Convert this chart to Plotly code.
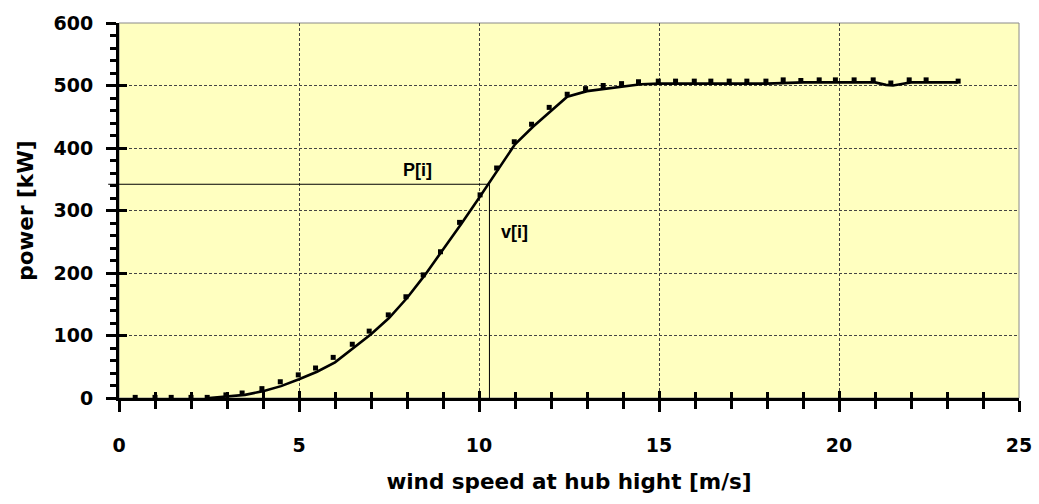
import plotly.graph_objects as go

# Measured power at binned wind speeds (markers)
measured_speed = [0.45, 1.0, 1.45, 2.0, 2.45, 2.97, 3.42, 3.97, 4.48, 4.98, 5.46, 5.95,
                  6.48, 6.95, 7.48, 7.97, 8.45, 8.93, 9.46, 10.03, 10.49, 10.98, 11.46,
                  11.95, 12.45, 12.96, 13.45, 13.96, 14.43, 14.98, 15.46, 15.98, 16.44,
                  16.95, 17.44, 17.97, 18.45, 18.94, 19.45, 19.9, 20.42, 20.95, 21.44,
                  21.95, 22.42, 23.31]
measured_power = [1, 1, 1, 1, 1, 5, 8, 15, 26, 37, 48, 65,
                  86, 107, 133, 162, 197, 234, 281, 325, 368, 410, 438,
                  465, 486, 495, 500, 503, 506, 507, 507, 507, 507,
                  507, 507, 507, 509, 508, 509, 509, 509, 509, 504,
                  509, 509, 507]

# Power curve (solid line)
curve_speed = [2.5, 3.0, 3.5, 4.0, 4.5, 5.0, 5.5, 6.0, 6.5, 7.0, 7.5, 8.0, 8.5, 9.0,
               9.5, 10.0, 10.5, 11.0, 11.5, 12.0, 12.45, 13.0, 13.5, 14.0, 14.5, 15.0,
               18.0, 19.0, 21.0, 21.3, 21.5, 21.7, 22.0, 23.3]
curve_power = [0, 2, 5, 11, 19, 30, 42, 57, 80, 102, 128, 160, 197, 237,
               278, 320, 364, 406, 434, 460, 482, 491, 495, 499, 502, 503,
               503, 505, 505, 501, 500, 502, 505, 505]

# Operating point
v_i = 10.29
P_i = 342

x_ticks = [0, 5, 10, 15, 20, 25]
y_ticks = [0, 100, 200, 300, 400, 500, 600]

BOLD = dict(family="DejaVu Sans", weight="bold", color="black")
ARIAL_BOLD = dict(family="Liberation Sans, Arial", weight="bold", color="black")

fig = go.Figure()

fig.add_trace(go.Scatter(
    x=[0, v_i, v_i], y=[P_i, P_i, 0], mode="lines",
    line=dict(color="black", width=1), hoverinfo="skip", showlegend=False))

fig.add_trace(go.Scatter(
    x=curve_speed, y=curve_power, mode="lines",
    line=dict(color="black", width=2.6), showlegend=False))

fig.add_trace(go.Scatter(
    x=measured_speed, y=measured_power, mode="markers",
    marker=dict(symbol="square", size=5, color="black", line=dict(width=0)),
    showlegend=False, cliponaxis=False))

# invisible trace that anchors the inner-tick axes
fig.add_trace(go.Scatter(x=[0], y=[0], xaxis="x2", yaxis="y2", mode="markers",
                         marker=dict(opacity=0), hoverinfo="skip", showlegend=False))

fig.add_annotation(x=v_i - 2.0, y=P_i + 23, text="P[i]", showarrow=False,
                   font=dict(size=18, **ARIAL_BOLD))
fig.add_annotation(x=v_i + 0.7, y=P_i - 76, text="v[i]", showarrow=False,
                   font=dict(size=18, **ARIAL_BOLD))

# horizontal reference line continues slightly past the value axis
fig.add_shape(type="line", xref="paper", yref="y", x0=-0.012, x1=0, y0=P_i, y1=P_i,
              line=dict(color="black", width=1))
# thin frame on top and right
fig.add_shape(type="rect", xref="paper", yref="paper", x0=0, x1=1, y0=0, y1=1,
              line=dict(color="#8a8a8a", width=1), layer="below")

grid = dict(showgrid=True, gridcolor="#444444", gridwidth=1, griddash="3px,2px")

fig.update_layout(
    width=1039, height=504,
    margin=dict(l=119, r=20, t=23, b=106, autoexpand=False),
    paper_bgcolor="white",
    plot_bgcolor="#FFFFC0",
    xaxis=dict(range=[0, 25], tickvals=x_ticks, ticktext=[str(t) for t in x_ticks],
               ticks="outside", ticklen=11, tickwidth=3, tickcolor="black",
               minor=dict(ticks="outside", dtick=1, ticklen=8, tickwidth=3,
                          tickcolor="black", showgrid=False),
               showline=True, linecolor="black", linewidth=3,
               tickfont=dict(size=19, **BOLD), ticklabelstandoff=17,
               title=dict(text="wind speed at hub hight [m/s]",
                          font=dict(size=21.5, **BOLD), standoff=20),
               automargin=False, zeroline=False, fixedrange=True, **grid),
    yaxis=dict(range=[0, 600], tickvals=y_ticks, ticktext=[str(t) for t in y_ticks],
               ticks="outside", ticklen=10, tickwidth=3, tickcolor="black",
               minor=dict(ticks="outside", dtick=20, ticklen=6, tickwidth=3,
                          tickcolor="black", showgrid=False),
               showline=True, linecolor="black", linewidth=3,
               tickfont=dict(size=19, **BOLD), ticklabelstandoff=9,
               title=dict(text="power [kW]", font=dict(size=21.5, **BOLD), standoff=15),
               automargin=False, zeroline=False, fixedrange=True, **grid),
    xaxis2=dict(range=[0, 25], overlaying="x", anchor="y2", side="bottom",
                tickvals=x_ticks, showticklabels=False,
                ticks="inside", ticklen=7, tickwidth=3, tickcolor="black",
                minor=dict(ticks="inside", dtick=1, ticklen=6, tickwidth=3,
                           tickcolor="black"),
                automargin=False, showgrid=False, zeroline=False, showline=False,
                fixedrange=True),
    yaxis2=dict(range=[0, 600], overlaying="y", anchor="x2", side="left",
                tickvals=y_ticks, showticklabels=False,
                ticks="inside", ticklen=8, tickwidth=3, tickcolor="black",
                automargin=False, showgrid=False, zeroline=False, showline=False,
                fixedrange=True),
)

fig.write_html("out.html")
